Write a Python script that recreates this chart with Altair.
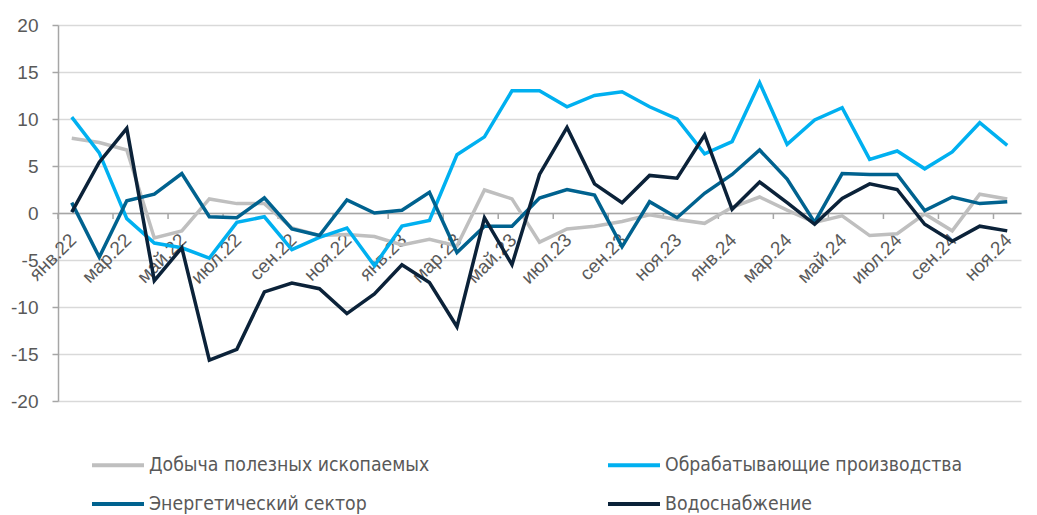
import altair as alt
import pandas as pd

month_names = ["янв", "фев", "мар", "апр", "май", "июн", "июл", "авг", "сен", "окт", "ноя", "дек"]
years = ["22", "23", "24"]
months = [f"{m}.{y}" for y in years for m in month_names][:35]

series_names = [
    "Добыча полезных ископаемых",
    "Обрабатывающие производства",
    "Энергетический сектор",
    "Водоснабжение",
]
series_colors = ["#BFBFBF", "#00B0F0", "#00628F", "#0B2239"]

mining = [7.95, 7.5, 6.7, -2.65, -1.9, 1.5, 1.0, 1.0, -1.6, -2.4, -2.3, -2.5,
          -3.4, -2.8, -3.5, 2.45, 1.5, -3.1, -1.7, -1.4, -0.9, -0.2, -0.7, -1.1,
          0.6, 1.7, 0.3, -1.0, -0.3, -2.4, -2.2, -0.1, -1.9, 2.0, 1.5]
manufacturing = [10.2, 6.4, -0.6, -3.2, -3.7, -4.8, -1.0, -0.4, -3.9, -2.6, -1.6, -5.6,
                 -1.4, -0.8, 6.2, 8.1, 13.0, 13.0, 11.3, 12.5, 12.9, 11.3, 10.0, 6.3,
                 7.6, 13.85, 7.3, 9.9, 11.2, 5.7, 6.6, 4.7, 6.5, 9.6, 7.2]
energy = [1.1, -4.7, 1.3, 2.0, 4.2, -0.4, -0.5, 1.6, -1.7, -2.4, 1.4, 0.0,
          0.3, 2.2, -4.2, -1.4, -1.4, 1.6, 2.5, 1.9, -3.6, 1.2, -0.5, 2.1,
          4.1, 6.7, 3.6, -1.0, 4.2, 4.1, 4.1, 0.25, 1.7, 1.0, 1.2]
water = [0.1, 5.4, 9.0, -7.2, -3.7, -15.65, -14.5, -8.4, -7.45, -8.05, -10.7, -8.6,
         -5.5, -7.4, -12.1, -0.5, -5.5, 4.1, 9.1, 3.1, 1.1, 4.0, 3.7, 8.3,
         0.4, 3.3, 1.1, -1.2, 1.55, 3.1, 2.5, -1.2, -3.0, -1.4, -1.9]

y_ticks = [-20, -15, -10, -5, 0, 5, 10, 15, 20]
label_months = months[::2]

rows = []
for name, vals in zip(series_names, [mining, manufacturing, energy, water]):
    for i, (m, v) in enumerate(zip(months, vals)):
        rows.append({"month": m, "idx": i, "series": name, "value": v})
df = pd.DataFrame(rows)
ticks_df = pd.DataFrame({"month": label_months})

W, H = 963, 376
FONT = "Liberation Sans"
LEGEND_FONT = "DejaVu Sans Condensed, Liberation Sans, sans-serif"
AXIS_GRAY = "#A6A6A6"
TEXT_GRAY = "#595959"

x_scale = alt.Scale(type="band", domain=months, paddingInner=0, paddingOuter=0)
x_axis = alt.Axis(
    title=None,
    values=label_months,
    offset=-H / 2,
    domainColor=AXIS_GRAY,
    domainWidth=1.5,
    ticks=False,
    labels=False,
    grid=False,
)
y_scale = alt.Scale(domain=[-20, 20], nice=False)
y_axis = alt.Axis(
    title=None,
    values=y_ticks,
    domainColor=AXIS_GRAY,
    domainWidth=1.5,
    tickColor=AXIS_GRAY,
    tickWidth=1.5,
    tickSize=6,
    labelPadding=14,
    labelFontSize=19,
    labelFont=FONT,
    labelColor=TEXT_GRAY,
    labelExpr="datum.value < 0 ? '-' + abs(datum.value) : '' + datum.value",
    grid=True,
    gridColor="#D9D9D9",
    gridWidth=1.5,
)

color = alt.Color(
    "series:N",
    sort=series_names,
    scale=alt.Scale(domain=series_names, range=series_colors),
    legend=alt.Legend(
        title=None,
        orient="none",
        legendX=32,
        legendY=412,
        direction="horizontal",
        columns=2,
        columnPadding=170,
        rowPadding=0,
        symbolType="stroke",
        symbolSize=2704,
        symbolStrokeWidth=4,
        labelOffset=3,
        labelFont=LEGEND_FONT,
        labelFontSize=19.3,
        labelColor=TEXT_GRAY,
        labelLimit=400,
    ),
)

tick_layer = (
    alt.Chart(ticks_df)
    .mark_rule(color=AXIS_GRAY, strokeWidth=1.5, y2Offset=6)
    .encode(
        x=alt.X("month:N", bandPosition=0, scale=x_scale, axis=x_axis),
        y=alt.YDatum(0, scale=y_scale, axis=y_axis),
        y2=alt.Y2Datum(0),
    )
)

label_layer = (
    alt.Chart(ticks_df)
    .mark_text(
        angle=315,
        align="right",
        baseline="middle",
        font=FONT,
        fontSize=19,
        color=TEXT_GRAY,
        xOffset=1.5,
        yOffset=24,
    )
    .encode(
        x=alt.X("month:N", scale=x_scale, axis=x_axis),
        y=alt.YDatum(0, scale=y_scale, axis=y_axis),
        text="month:N",
    )
)

line_layer = (
    alt.Chart(df)
    .mark_line(strokeWidth=3.5)
    .encode(
        x=alt.X("month:N", scale=x_scale, axis=x_axis),
        y=alt.Y("value:Q", scale=y_scale, axis=y_axis),
        color=color,
        order=alt.Order("idx:Q"),
    )
)

chart = (
    alt.layer(tick_layer, label_layer, line_layer)
    .properties(
        width=W,
        height=H,
        autosize=alt.AutoSizeParams(type="none"),
        padding={"left": 50, "top": 17, "right": 8, "bottom": 118},
    )
    .configure_view(stroke=None)
)

chart.save("out.html", embed_options={"renderer": "svg", "actions": False})
